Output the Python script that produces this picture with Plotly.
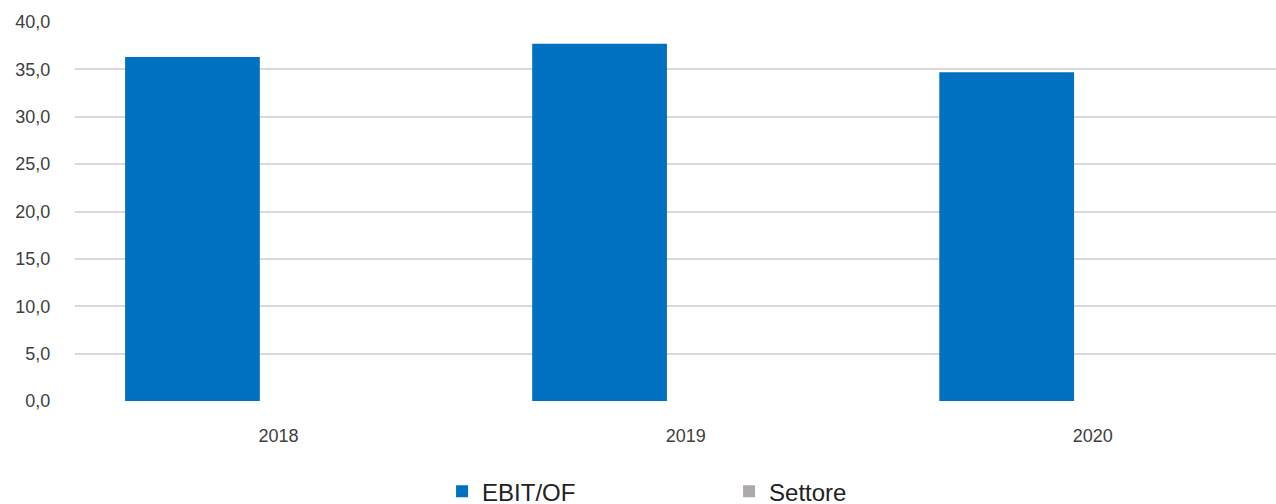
import plotly.graph_objects as go

# Data
years = ["2018", "2019", "2020"]
ebit_of = [36.3, 37.7, 34.7]
settore = [0, 0, 0]
y_ticks = [0, 5, 10, 15, 20, 25, 30, 35, 40]

BLUE = "#0070C0"
GREY = "#ADA9A9"
TEXT = "#404040"

fig = go.Figure()
fig.add_trace(go.Bar(
    x=years, y=ebit_of, name="EBIT/OF",
    marker=dict(color=BLUE, line=dict(width=0)),
    width=0.331, offset=-0.377,
))
fig.add_trace(go.Bar(
    x=years, y=settore, name="Settore",
    marker=dict(color=GREY, line=dict(width=0)),
    width=0.331, offset=-0.046,
))

fig.update_layout(
    width=1276, height=504,
    margin=dict(l=75, r=0, t=22, b=103, autoexpand=False),
    paper_bgcolor="white", plot_bgcolor="white",
    separators=",.",
    barmode="group",
    font=dict(family="Arial, Liberation Sans, sans-serif", color=TEXT, size=16),
    showlegend=True,
    legend=dict(
        orientation="h", x=390 / 1276, xanchor="left", y=-0.18, yanchor="top",
        font=dict(size=24, color="#222222"),
        entrywidth=242, entrywidthmode="pixels",
        itemwidth=30,
    ),
)
fig.update_xaxes(
    type="category", range=[-0.5, 2.45],
    showgrid=False, showline=False, zeroline=False,
    ticks="outside", ticklen=18, tickcolor="rgba(0,0,0,0)",
    tickfont=dict(size=18, color=TEXT),
    automargin=False,
)
fig.update_yaxes(
    range=[0, 40], tickvals=y_ticks, tickformat=".1f",
    showgrid=True, gridcolor="#D9D9D9", gridwidth=1.5,
    zeroline=False, showline=False,
    ticks="outside", ticklen=20, tickcolor="rgba(0,0,0,0)",
    tickfont=dict(size=18, color=TEXT),
    automargin=False,
)

fig.write_html("out.html")
